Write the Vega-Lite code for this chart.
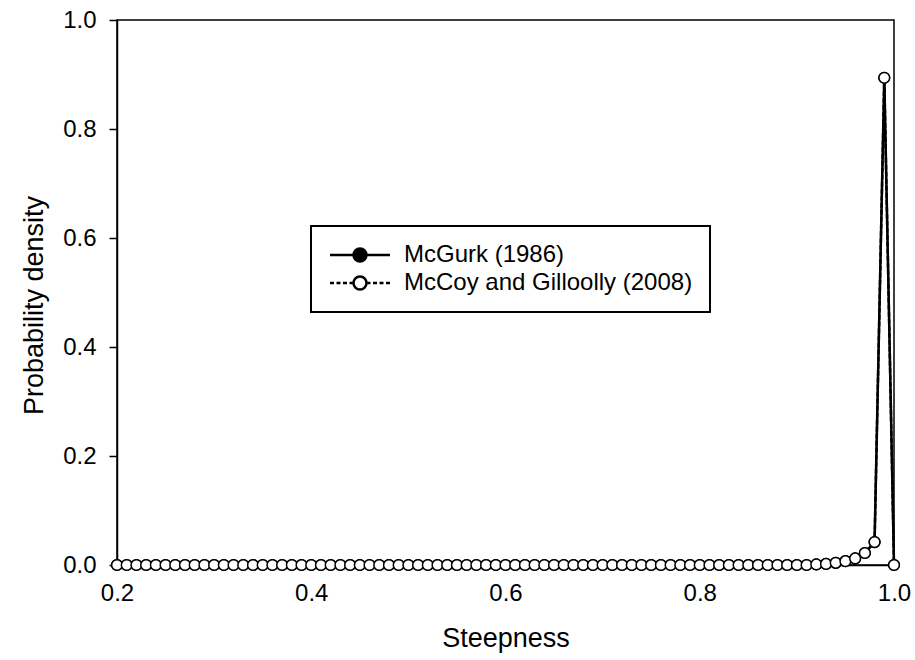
{
  "$schema": "https://vega.github.io/schema/vega-lite/v6.json",
  "width": 777,
  "height": 545,
  "autosize": "none",
  "padding": {"left": 117, "top": 20, "right": 21, "bottom": 95},
  "background": "white",
  "config": {"view": {"stroke": "black", "strokeWidth": 1.5}, "font": "Liberation Sans"},
  "data": {"values": [
    {"steepness": 0.20, "mcgurk": 0, "mccoy": 0}, {"steepness": 0.21, "mcgurk": 0, "mccoy": 0},
    {"steepness": 0.22, "mcgurk": 0, "mccoy": 0}, {"steepness": 0.23, "mcgurk": 0, "mccoy": 0},
    {"steepness": 0.24, "mcgurk": 0, "mccoy": 0}, {"steepness": 0.25, "mcgurk": 0, "mccoy": 0},
    {"steepness": 0.26, "mcgurk": 0, "mccoy": 0}, {"steepness": 0.27, "mcgurk": 0, "mccoy": 0},
    {"steepness": 0.28, "mcgurk": 0, "mccoy": 0}, {"steepness": 0.29, "mcgurk": 0, "mccoy": 0},
    {"steepness": 0.30, "mcgurk": 0, "mccoy": 0}, {"steepness": 0.31, "mcgurk": 0, "mccoy": 0},
    {"steepness": 0.32, "mcgurk": 0, "mccoy": 0}, {"steepness": 0.33, "mcgurk": 0, "mccoy": 0},
    {"steepness": 0.34, "mcgurk": 0, "mccoy": 0}, {"steepness": 0.35, "mcgurk": 0, "mccoy": 0},
    {"steepness": 0.36, "mcgurk": 0, "mccoy": 0}, {"steepness": 0.37, "mcgurk": 0, "mccoy": 0},
    {"steepness": 0.38, "mcgurk": 0, "mccoy": 0}, {"steepness": 0.39, "mcgurk": 0, "mccoy": 0},
    {"steepness": 0.40, "mcgurk": 0, "mccoy": 0}, {"steepness": 0.41, "mcgurk": 0, "mccoy": 0},
    {"steepness": 0.42, "mcgurk": 0, "mccoy": 0}, {"steepness": 0.43, "mcgurk": 0, "mccoy": 0},
    {"steepness": 0.44, "mcgurk": 0, "mccoy": 0}, {"steepness": 0.45, "mcgurk": 0, "mccoy": 0},
    {"steepness": 0.46, "mcgurk": 0, "mccoy": 0}, {"steepness": 0.47, "mcgurk": 0, "mccoy": 0},
    {"steepness": 0.48, "mcgurk": 0, "mccoy": 0}, {"steepness": 0.49, "mcgurk": 0, "mccoy": 0},
    {"steepness": 0.50, "mcgurk": 0, "mccoy": 0}, {"steepness": 0.51, "mcgurk": 0, "mccoy": 0},
    {"steepness": 0.52, "mcgurk": 0, "mccoy": 0}, {"steepness": 0.53, "mcgurk": 0, "mccoy": 0},
    {"steepness": 0.54, "mcgurk": 0, "mccoy": 0}, {"steepness": 0.55, "mcgurk": 0, "mccoy": 0},
    {"steepness": 0.56, "mcgurk": 0, "mccoy": 0}, {"steepness": 0.57, "mcgurk": 0, "mccoy": 0},
    {"steepness": 0.58, "mcgurk": 0, "mccoy": 0}, {"steepness": 0.59, "mcgurk": 0, "mccoy": 0},
    {"steepness": 0.60, "mcgurk": 0, "mccoy": 0}, {"steepness": 0.61, "mcgurk": 0, "mccoy": 0},
    {"steepness": 0.62, "mcgurk": 0, "mccoy": 0}, {"steepness": 0.63, "mcgurk": 0, "mccoy": 0},
    {"steepness": 0.64, "mcgurk": 0, "mccoy": 0}, {"steepness": 0.65, "mcgurk": 0, "mccoy": 0},
    {"steepness": 0.66, "mcgurk": 0, "mccoy": 0}, {"steepness": 0.67, "mcgurk": 0, "mccoy": 0},
    {"steepness": 0.68, "mcgurk": 0, "mccoy": 0}, {"steepness": 0.69, "mcgurk": 0, "mccoy": 0},
    {"steepness": 0.70, "mcgurk": 0, "mccoy": 0}, {"steepness": 0.71, "mcgurk": 0, "mccoy": 0},
    {"steepness": 0.72, "mcgurk": 0, "mccoy": 0}, {"steepness": 0.73, "mcgurk": 0, "mccoy": 0},
    {"steepness": 0.74, "mcgurk": 0, "mccoy": 0}, {"steepness": 0.75, "mcgurk": 0, "mccoy": 0},
    {"steepness": 0.76, "mcgurk": 0, "mccoy": 0}, {"steepness": 0.77, "mcgurk": 0, "mccoy": 0},
    {"steepness": 0.78, "mcgurk": 0, "mccoy": 0}, {"steepness": 0.79, "mcgurk": 0, "mccoy": 0},
    {"steepness": 0.80, "mcgurk": 0, "mccoy": 0}, {"steepness": 0.81, "mcgurk": 0, "mccoy": 0},
    {"steepness": 0.82, "mcgurk": 0, "mccoy": 0}, {"steepness": 0.83, "mcgurk": 0, "mccoy": 0},
    {"steepness": 0.84, "mcgurk": 0, "mccoy": 0}, {"steepness": 0.85, "mcgurk": 0, "mccoy": 0},
    {"steepness": 0.86, "mcgurk": 0, "mccoy": 0}, {"steepness": 0.87, "mcgurk": 0, "mccoy": 0},
    {"steepness": 0.88, "mcgurk": 0, "mccoy": 0}, {"steepness": 0.89, "mcgurk": 0, "mccoy": 0},
    {"steepness": 0.90, "mcgurk": 0, "mccoy": 0}, {"steepness": 0.91, "mcgurk": 0, "mccoy": 0},
    {"steepness": 0.92, "mcgurk": 0.001, "mccoy": 0.001}, {"steepness": 0.93, "mcgurk": 0.002, "mccoy": 0.002},
    {"steepness": 0.94, "mcgurk": 0.004, "mccoy": 0.004}, {"steepness": 0.95, "mcgurk": 0.007, "mccoy": 0.007},
    {"steepness": 0.96, "mcgurk": 0.012, "mccoy": 0.012}, {"steepness": 0.97, "mcgurk": 0.022, "mccoy": 0.022},
    {"steepness": 0.98, "mcgurk": 0.042, "mccoy": 0.042}, {"steepness": 0.99, "mcgurk": 0.894, "mccoy": 0.894},
    {"steepness": 1.00, "mcgurk": 0, "mccoy": 0}
  ]},
  "transform": [{"fold": ["mcgurk", "mccoy"], "as": ["series", "density"]}],
  "encoding": {
    "x": {
      "field": "steepness", "type": "quantitative",
      "scale": {"domain": [0.2, 1.0], "nice": false, "zero": false},
      "axis": {
        "values": [0.2, 0.4, 0.6, 0.8, 1.0], "format": ".1f", "ticks": false,
        "labelPadding": 16, "labelFontSize": 24, "labelColor": "black", "labelFont": "Liberation Sans",
        "labelFlush": false, "domainColor": "black", "domainWidth": 1.5, "grid": false,
        "title": "Steepness", "titleFontSize": 27, "titleFontWeight": "normal", "titleColor": "black",
        "titleFont": "Liberation Sans", "titlePadding": 20
      }
    },
    "y": {
      "field": "density", "type": "quantitative",
      "scale": {"domain": [0, 1], "nice": false},
      "axis": {
        "values": [0, 0.2, 0.4, 0.6, 0.8, 1.0], "format": ".1f", "tickSize": 8, "tickColor": "black",
        "tickWidth": 1.5, "labelPadding": 13, "labelFontSize": 24, "labelColor": "black",
        "labelFont": "Liberation Sans", "labelFlush": false, "domainColor": "black", "domainWidth": 1.5,
        "grid": false, "title": "Probability density", "titleFontSize": 27, "titleFontWeight": "normal",
        "titleColor": "black", "titleFont": "Liberation Sans", "titlePadding": 14, "titleY": 285
      }
    }
  },
  "layer": [
    {
      "transform": [{"filter": "datum.series === 'mcgurk'"}],
      "mark": {"type": "line", "color": "black", "strokeWidth": 2.5}
    },
    {
      "transform": [{"filter": "datum.series === 'mcgurk'"}],
      "mark": {"type": "point", "shape": "circle", "filled": true, "stroke": "black", "strokeWidth": 1.5, "size": 115, "opacity": 1},
      "encoding": {
        "fill": {
          "field": "series", "type": "nominal",
          "scale": {"domain": ["mcgurk", "mccoy"], "range": ["black", "white"]},
          "legend": {
            "orient": "none", "legendX": 194, "legendY": 206, "title": null,
            "labelExpr": "datum.value === 'mcgurk' ? 'McGurk (1986)' : 'McCoy and Gilloolly (2008)'",
            "labelFontSize": 24, "labelFont": "Liberation Sans", "labelColor": "black", "labelLimit": 600,
            "padding": 17, "strokeColor": "black", "fillColor": "white", "rowPadding": 4,
            "symbolSize": 400, "symbolStrokeWidth": 2.5, "symbolStrokeColor": "black", "symbolOpacity": 1,
            "labelOffset": 52,
            "encode": {
              "legend": {"update": {"strokeWidth": {"value": 2}}},
              "symbols": {"update": {
                "shape": {"signal": "datum.value === 'mcgurk' ? 'M-1,0L1.35,0M2.65,0L5,0M2.65,0A0.65,0.65,0,1,1,1.35,0A0.65,0.65,0,1,1,2.65,0Z' : 'M-1,0L-0.6,0M-0.35,0L0.05,0M0.3,0L0.7,0M0.95,0L1.35,0M2.65,0L3.05,0M3.3,0L3.7,0M3.95,0L4.35,0M4.6,0L5,0M2.65,0A0.65,0.65,0,1,1,1.35,0A0.65,0.65,0,1,1,2.65,0Z'"},
                "stroke": {"value": "black"},
                "strokeWidth": {"value": 2.5}
              }}
            }
          }
        }
      }
    },
    {
      "transform": [{"filter": "datum.series === 'mccoy'"}],
      "mark": {"type": "line", "color": "black", "strokeWidth": 2.5, "strokeDash": [5, 2]}
    },
    {
      "transform": [{"filter": "datum.series === 'mccoy'"}],
      "mark": {"type": "point", "shape": "circle", "filled": true, "stroke": "black", "strokeWidth": 1.5, "size": 115, "opacity": 1},
      "encoding": {
        "fill": {"field": "series", "type": "nominal", "scale": {"domain": ["mcgurk", "mccoy"], "range": ["black", "white"]}}
      }
    },
    {
      "data": {"values": [{"label": "(b)"}]},
      "mark": {"type": "text", "fontSize": 28, "align": "left", "baseline": "alphabetic", "font": "Liberation Sans", "color": "black"},
      "encoding": {
        "x": {"datum": 0.213, "type": "quantitative"},
        "y": {"datum": 0.927, "type": "quantitative"},
        "text": {"field": "label"}
      }
    }
  ]
}
